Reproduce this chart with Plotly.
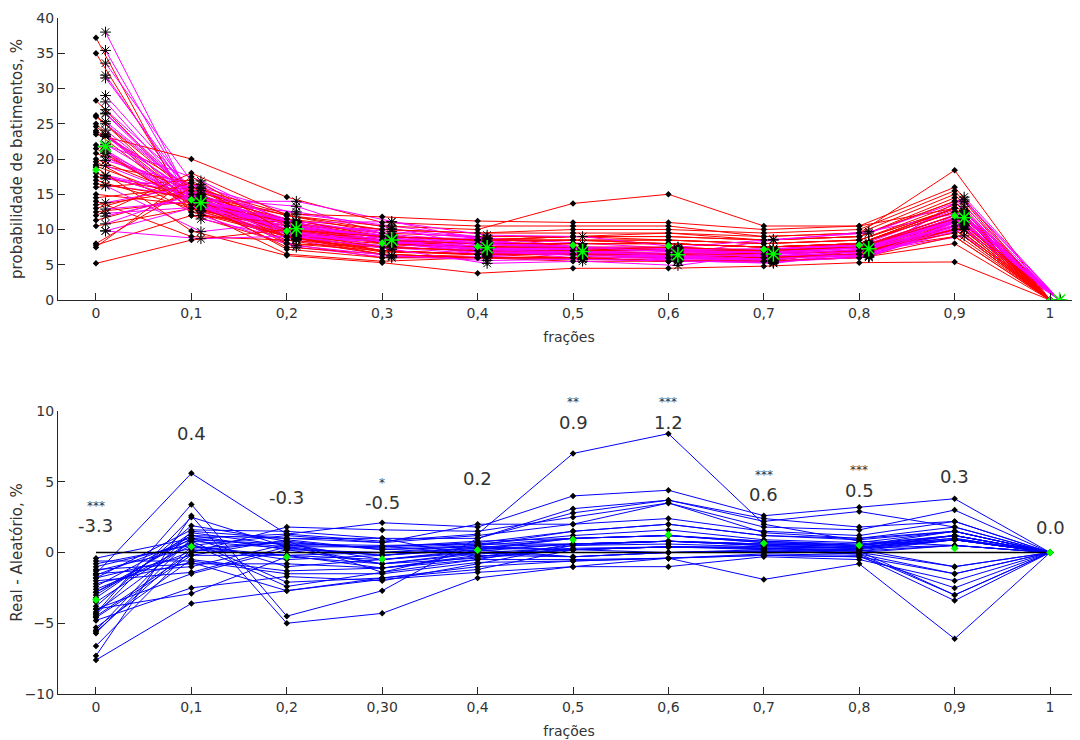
import numpy as np
import plotly.graph_objects as go

# ---------------- data ----------------
fractions = [0.0, 0.1, 0.2, 0.3, 0.4, 0.5, 0.6, 0.7, 0.8, 0.9, 1.0]
x_labels_top = ["0", "0,1", "0,2", "0,3", "0,4", "0,5", "0,6", "0,7", "0,8", "0,9", "1"]
x_labels_bottom = ["0", "0,1", "0,2", "0,30", "0,4", "0,5", "0,6", "0,7", "0,8", "0,9", "1"]
y_ticks_top = [0, 5, 10, 15, 20, 25, 30, 35, 40]
y_ticks_bottom = [-10, -5, 0, 5, 10]

# real beat probability (%) per subject, one list per fraction
real_00 = [37.2, 35.0, 28.3, 26.2, 26.0, 25.0, 24.6, 24.0, 23.8, 23.5, 22.0, 20.8, 19.2, 19.0, 18.0, 17.5, 16.0, 15.0,
           20.0, 14.5, 14.0, 13.5, 19.6, 13.0, 12.5, 12.0, 17.0, 11.3, 10.5, 16.5, 8.0, 7.8, 7.5, 18.8, 21.5, 5.2]
real_01 = [12.0, 13.0, 14.5, 13.5, 15.0, 12.5, 14.0, 16.0, 13.5, 20.0, 13.0, 15.5, 16.6, 14.0, 14.0, 15.0, 17.0, 13.5,
           14.5, 16.0, 9.0, 15.5, 12.5, 16.6, 14.0, 18.0, 13.0, 15.0, 13.0, 14.5, 16.0, 12.0, 17.5, 9.8, 13.5, 8.5]
real_02 = [8.0, 6.5, 8.0, 9.0, 12.0, 9.5, 7.5, 10.0, 11.0, 14.6, 10.5, 9.0, 9.0, 11.5, 10.0, 9.5, 8.0, 10.5,
           7.2, 11.0, 8.5, 12.0, 9.0, 10.5, 11.0, 12.0, 9.0, 11.5, 10.0, 9.0, 12.2, 11.0, 9.5, 6.3, 8.5, 10.0]
real_03 = [6.0, 5.5, 7.0, 8.0, 9.5, 8.5, 6.5, 9.0, 9.5, 11.0, 8.5, 7.5, 6.8, 10.0, 8.0, 7.0, 7.5, 8.5,
           6.0, 9.0, 7.5, 10.5, 7.0, 8.0, 9.0, 10.0, 6.5, 9.0, 8.5, 7.0, 11.8, 8.0, 7.5, 5.3, 6.5, 9.0]
real_04 = [6.5, 6.0, 6.5, 7.5, 7.0, 8.0, 6.0, 8.5, 9.0, 10.5, 8.0, 7.0, 6.5, 9.5, 7.5, 6.5, 8.5, 8.0,
           6.0, 8.5, 7.0, 10.0, 6.5, 7.5, 8.5, 9.5, 6.0, 8.5, 8.0, 6.5, 11.2, 7.5, 7.0, 3.8, 6.0, 8.5]
real_05 = [6.0, 5.5, 6.5, 7.5, 7.0, 8.5, 6.0, 9.0, 9.0, 10.5, 8.0, 7.0, 6.5, 9.5, 7.5, 6.5, 9.0, 8.0,
           6.0, 9.0, 7.0, 13.7, 6.5, 8.0, 8.5, 10.0, 6.0, 8.5, 8.0, 6.5, 11.0, 7.5, 7.0, 4.5, 6.0, 8.5]
real_06 = [6.0, 5.5, 6.5, 7.0, 7.0, 8.5, 5.5, 9.0, 8.5, 10.5, 8.0, 7.0, 6.5, 9.5, 7.5, 6.0, 9.5, 8.0,
           5.5, 9.0, 6.5, 15.0, 6.0, 8.0, 8.0, 10.0, 5.5, 8.5, 8.0, 6.5, 11.0, 7.0, 7.5, 4.5, 5.5, 8.0]
real_07 = [5.5, 5.5, 6.0, 7.0, 6.5, 8.0, 5.5, 8.5, 8.0, 9.0, 7.5, 6.5, 6.5, 9.0, 7.0, 6.0, 8.5, 7.5,
           5.5, 8.5, 6.5, 10.5, 6.0, 7.5, 7.5, 9.5, 5.5, 8.0, 7.5, 6.0, 10.0, 7.0, 7.0, 4.8, 5.5, 7.5]
real_08 = [7.0, 7.0, 6.5, 7.5, 7.0, 8.5, 7.0, 9.0, 8.5, 9.5, 8.0, 7.5, 7.0, 9.5, 7.5, 6.5, 9.0, 8.0,
           7.0, 9.0, 7.0, 10.5, 6.5, 8.0, 8.0, 10.0, 6.0, 8.5, 8.0, 6.5, 10.5, 7.5, 7.5, 5.3, 6.0, 8.0]
real_09 = [9.0, 10.0, 11.0, 12.0, 11.5, 13.0, 10.5, 14.0, 13.0, 18.4, 12.5, 11.0, 10.0, 15.0, 12.0, 10.5, 14.5, 13.0,
           9.5, 14.0, 11.0, 13.0, 10.0, 12.5, 13.0, 15.5, 9.0, 13.5, 12.5, 10.5, 16.0, 12.0, 11.5, 5.4, 8.0, 13.0]
real_10 = [0.0, 0.0, 0.0, 0.0, 0.0, 0.0, 0.0, 0.0, 0.0, 0.0, 0.0, 0.0, 0.0, 0.0, 0.0, 0.0, 0.0, 0.0,
           0.0, 0.0, 0.0, 0.0, 0.0, 0.0, 0.0, 0.0, 0.0, 0.0, 0.0, 0.0, 0.0, 0.0, 0.0, 0.0, 0.0, 0.0]

# real - random (%) per subject, one list per fraction
diff_00 = [-0.8, -0.4, -5.3, -5.7, -5.5, -4.0, -3.5, -3.0, -1.5, -1.5, -1.3, -2.4, -7.3, -4.5, -4.0, -3.8, -4.3, -4.8,
           -1.0, -3.2, -2.2, -2.8, -1.2, -4.2, -6.6, -1.8, -0.6, -1.6, -1.8, -5.6, -2.8, -2.0, -4.4, -7.6, -2.6, -4.6]
diff_01 = [0.5, 1.0, -0.5, 1.0, 1.5, -1.5, 0.8, 1.2, -1.0, 5.6, 0.3, 1.2, 2.6, 0.0, -2.9, 1.9, 3.4, -2.5,
           0.6, 1.4, -0.7, 1.0, -0.8, 0.8, 0.2, 1.6, -0.6, 0.9, -0.2, 0.4, 0.5, -1.4, 2.5, -3.6, 0.1, -0.2]
diff_02 = [-0.5, -1.0, -1.3, 0.4, 1.0, 0.2, -2.1, 1.0, 0.6, 1.3, 0.7, 0.2, -5.0, 1.8, -0.3, 0.8, -4.5, -1.7,
           -2.4, 0.5, -2.7, 1.3, -0.8, 0.3, -0.2, 1.5, -1.5, 0.6, -0.2, -0.2, 1.2, 0.4, 0.4, -2.7, 0.8, 0.9]
diff_03 = [-0.2, -0.5, -1.1, 0.4, 1.0, 0.0, -1.8, 0.7, -0.5, 2.1, 0.3, -0.8, -4.3, 1.6, -0.8, -1.4, -2.7, -2.0,
           -1.4, 0.4, -1.8, 0.8, -1.1, -0.2, 0.0, 1.0, -1.5, 0.5, -0.5, -1.1, 0.7, -0.2, -0.8, -1.9, 0.2, 0.2]
diff_04 = [0.3, 0.0, -0.5, 0.8, -0.3, 0.5, -1.0, 1.2, 0.2, 1.8, 0.6, -0.4, -1.8, 1.5, 0.0, 0.2, 1.0, -0.8,
           -0.5, 0.7, -1.2, 1.3, -0.2, 0.4, 0.3, 1.0, -0.7, 0.6, 0.1, -0.3, 2.0, 0.2, -0.1, -1.4, 0.4, 0.5]
diff_05 = [0.2, -0.3, 0.6, 1.0, 0.5, 1.5, -0.6, 2.0, 1.0, 4.0, 0.6, 0.2, -1.0, 2.5, 0.3, -0.3, 2.8, 0.5,
           -0.5, 1.5, 0.2, 7.0, -0.3, 0.6, 1.0, 3.1, -0.6, 1.2, 0.6, 0.2, 2.0, 0.6, 0.2, -1.0, 0.2, 1.0]
diff_06 = [0.4, 0.0, 0.8, 1.2, 0.6, 2.0, -0.4, 2.4, 1.2, 4.4, 0.8, 0.4, -1.0, 3.5, 0.4, 0.0, 3.7, 0.8,
           -0.4, 2.0, 0.4, 8.4, 0.0, 0.8, 1.2, 3.7, -0.4, 1.6, 0.8, 0.4, 3.5, 0.8, 0.4, -0.4, 0.0, 1.2]
diff_07 = [0.3, 0.2, 0.5, 0.8, 0.4, 1.2, -0.2, 1.5, 0.8, 2.6, 0.6, 0.3, -0.3, 1.8, 0.4, 0.1, 2.2, 0.6,
           -0.2, 1.2, 0.3, 2.0, 0.1, 0.6, 0.7, 2.4, -0.1, 0.9, 0.5, 0.2, 1.4, 0.5, 0.3, -1.9, 0.1, 0.7]
diff_08 = [0.2, 0.1, 0.3, 0.6, 0.3, 0.9, -0.3, 1.2, 0.5, 3.2, 0.4, 0.2, -0.5, 1.6, 0.3, 0.0, 2.9, 0.5,
           -0.3, 1.0, 0.1, 0.8, -0.1, 0.4, 0.5, 1.8, -0.2, 0.7, 0.3, 0.0, 1.0, 0.3, 0.1, -0.8, -0.1, 0.5]
diff_09 = [-1.0, 0.9, 0.5, 1.2, 0.9, 1.5, -1.5, 2.2, 1.0, 3.8, 0.9, 0.9, -2.0, 3.0, 1.2, 0.5, 1.8, 1.2,
           -2.5, 1.5, -3.0, 0.5, -1.5, 1.0, 1.2, 2.2, -3.4, 1.5, 0.9, -1.0, 1.8, 1.2, 0.5, -6.1, -3.0, 1.5]
diff_10 = [0.0, 0.0, 0.0, 0.0, 0.0, 0.0, 0.0, 0.0, 0.0, 0.0, 0.0, 0.0, 0.0, 0.0, 0.0, 0.0, 0.0, 0.0,
           0.0, 0.0, 0.0, 0.0, 0.0, 0.0, 0.0, 0.0, 0.0, 0.0, 0.0, 0.0, 0.0, 0.0, 0.0, 0.0, 0.0, 0.0]

mean_labels = ["-3.3", "0.4", "-0.3", "-0.5", "0.2", "0.9", "1.2", "0.6", "0.5", "0.3", "0.0"]
signif_stars = ["***", "", "", "*", "", "**", "***", "***", "***", "", ""]

# ---------------- build ----------------
real = np.array([real_00, real_01, real_02, real_03, real_04, real_05, real_06, real_07, real_08, real_09, real_10]).T
diff = np.array([diff_00, diff_01, diff_02, diff_03, diff_04, diff_05, diff_06, diff_07, diff_08, diff_09, diff_10]).T
rand = real - diff
n_sub = real.shape[0]
xs = np.array(fractions)
x_rand = xs + 0.01  # random series drawn slightly offset

RED, MAG, BLUE, GREEN = "#ff0000", "#ff00ff", "#0000ff", "#00ff00"
TXT = "#333333"
FONT = "DejaVu Sans"

fig = go.Figure()

# top panel lines, interleaved per subject
for i in range(n_sub):
    fig.add_trace(go.Scatter(x=xs, y=real[i], mode="lines", line=dict(color=RED, width=1),
                             xaxis="x", yaxis="y", showlegend=False, hoverinfo="skip"))
    fig.add_trace(go.Scatter(x=x_rand, y=rand[i], mode="lines", line=dict(color=MAG, width=1),
                             xaxis="x", yaxis="y", showlegend=False, hoverinfo="skip"))

# top panel markers
fig.add_trace(go.Scatter(x=np.tile(xs, n_sub), y=real.ravel(), mode="markers",
                         marker=dict(symbol="diamond", size=5, color="black"),
                         xaxis="x", yaxis="y", showlegend=False))
fig.add_trace(go.Scatter(x=np.tile(x_rand, n_sub), y=rand.ravel(), mode="markers",
                         marker=dict(symbol="asterisk-open", size=9, color="black", line=dict(color="black", width=1)),
                         xaxis="x", yaxis="y", showlegend=False))
fig.add_trace(go.Scatter(x=xs, y=real.mean(axis=0), mode="markers",
                         marker=dict(symbol="diamond", size=6, color=GREEN),
                         xaxis="x", yaxis="y", showlegend=False))
fig.add_trace(go.Scatter(x=x_rand, y=rand.mean(axis=0), mode="markers",
                         marker=dict(symbol="asterisk-open", size=13, color=GREEN, line=dict(color=GREEN, width=1.5)),
                         xaxis="x", yaxis="y", showlegend=False))

# bottom panel lines
for i in range(n_sub):
    fig.add_trace(go.Scatter(x=xs, y=diff[i], mode="lines", line=dict(color=BLUE, width=1),
                             xaxis="x2", yaxis="y2", showlegend=False, hoverinfo="skip"))
fig.add_trace(go.Scatter(x=[xs[0], xs[-1]], y=[0, 0], mode="lines", line=dict(color="black", width=1.5),
                         xaxis="x2", yaxis="y2", showlegend=False, hoverinfo="skip"))
fig.add_trace(go.Scatter(x=np.tile(xs, n_sub), y=diff.ravel(), mode="markers",
                         marker=dict(symbol="diamond", size=5, color="black"),
                         xaxis="x2", yaxis="y2", showlegend=False))
fig.add_trace(go.Scatter(x=xs, y=diff.mean(axis=0), mode="markers",
                         marker=dict(symbol="diamond", size=6, color=GREEN),
                         xaxis="x2", yaxis="y2", showlegend=False))

# annotations: mean values and significance
label_y = [1.9, 8.4, 3.9, 3.5, 5.2, 9.2, 9.2, 4.1, 4.4, 5.4, 1.8]
annotations = []
for xv, lab, st, yv in zip(fractions, mean_labels, signif_stars, label_y):
    annotations.append(dict(x=xv, y=yv, xref="x2", yref="y2", text=lab, showarrow=False,
                            font=dict(family=FONT, size=18, color=TXT)))
    if st:
        annotations.append(dict(x=xv, y=yv, xref="x2", yref="y2", text=st, showarrow=False, yshift=20,
                                font=dict(family=FONT, size=12, color=TXT)))

# the page body has an 8 px margin: figure size/margins compensate for it
x_range = [-0.0398, 1.0314]
axis_common = dict(showgrid=False, zeroline=False, showline=True, linecolor="#262626", linewidth=1,
                   ticks="inside", ticklen=7, tickcolor="#262626", mirror=False, automargin=False,
                   tickfont=dict(family=FONT, size=14, color=TXT))

fig.update_layout(
    width=1072, height=732,
    margin=dict(l=50, r=0, t=10, b=46, autoexpand=False),
    paper_bgcolor="white", plot_bgcolor="white",
    showlegend=False,
    annotations=annotations,
    xaxis=dict(domain=[0, 1], range=x_range, anchor="y", tickmode="array", tickvals=fractions,
               ticktext=x_labels_top,
               title=dict(text="frações", font=dict(family=FONT, size=14, color=TXT), standoff=12),
               **axis_common),
    yaxis=dict(domain=[0.5828, 1.0], range=[0, 40], anchor="x", tickmode="array", tickvals=y_ticks_top,
               title=dict(text="probabilidade de batimentos, %", font=dict(family=FONT, size=15, color=TXT), standoff=12),
               **axis_common),
    xaxis2=dict(domain=[0, 1], range=x_range, anchor="y2", tickmode="array", tickvals=fractions,
                ticktext=x_labels_bottom,
                title=dict(text="frações", font=dict(family=FONT, size=14, color=TXT), standoff=12),
                **axis_common),
    yaxis2=dict(domain=[0.0, 0.4186], range=[-10, 10], anchor="x2", tickmode="array", tickvals=y_ticks_bottom,
                title=dict(text="Real - Aleatório, %", font=dict(family=FONT, size=15, color=TXT), standoff=12),
                **axis_common),
)

fig.write_html("out.html")
